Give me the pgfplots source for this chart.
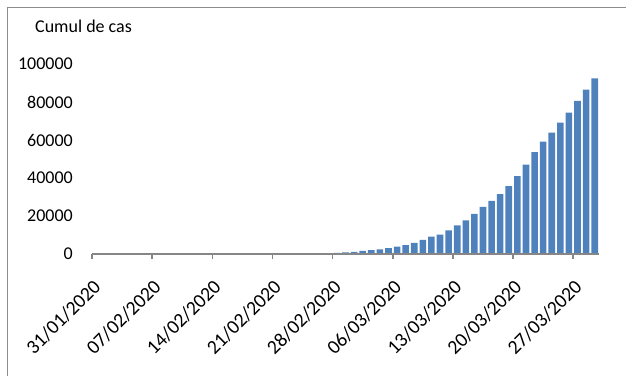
\documentclass[border=0pt]{standalone}
\usepackage{pgfplots}
\usepackage{pgfplotstable}
\pgfplotsset{compat=1.18}
\usepackage{fontspec}
\setmainfont{Carlito}

\definecolor{barblue}{HTML}{4F81BD}
\definecolor{axisgray}{HTML}{868686}
\definecolor{framegray}{HTML}{8C8C8C}

% Cumulative cases, day 0 = 31/01/2020
\pgfplotstableread{
day cases
0 2
1 2
2 2
3 2
4 2
5 2
6 2
7 3
8 3
9 3
10 3
11 3
12 3
13 3
14 3
15 3
16 3
17 3
18 3
19 3
20 3
21 3
22 20
23 79
24 152
25 229
26 322
27 400
28 650
29 888
30 1128
31 1694
32 2036
33 2502
34 3089
35 3858
36 4636
37 5883
38 7375
39 9172
40 10149
41 12462
42 15113
43 17660
44 21157
45 24747
46 27980
47 31506
48 35713
49 41035
50 47021
51 53578
52 59138
53 63927
54 69176
55 74386
56 80539
57 86498
58 92472
}\cumul

\newcommand{\chartfont}{\fontsize{18}{21.6}\selectfont}
\newcommand{\datefont}{\fontsize{19.8}{24}\selectfont}

\begin{document}
\begin{tikzpicture}[x=1pt,y=1pt]
\useasboundingbox (0,0) rectangle (626,376);
\draw[framegray, line width=1.3pt] (7.3,0) -- (7.3,368.7) -- (626,368.7);
\node[anchor=west, inner sep=0pt, font=\chartfont] at (35,349.3) {Cumul de cas};
\begin{axis}[
  at={(92pt,122pt)}, anchor=south west,
  scale only axis, width=507pt, height=190pt,
  xmin=0, xmax=59, ymin=0, ymax=100000,
  axis x line=bottom, axis y line*=left,
  axis line style={-},
  x axis line style={axisgray, line width=1.5pt},
  y axis line style={draw=none},
  ytick={0,20000,...,100000},
  ytick style={draw=none},
  xtick={0,7,...,56},
  xticklabels={31/01/2020,07/02/2020,14/02/2020,21/02/2020,28/02/2020,06/03/2020,13/03/2020,20/03/2020,27/03/2020},
  tick align=outside, major tick length=5pt,
  xtick style={axisgray, line width=1.5pt},
  scaled y ticks=false,
  axis on top,
  yticklabel style={font=\chartfont, xshift=-14pt, anchor=east, inner sep=0pt},
  xticklabel style={font=\datefont, xshift=0pt, yshift=-19pt, rotate=45, anchor=north east, inner sep=0pt},
  /pgf/number format/.cd, fixed, precision=0, 1000 sep={}, assume math mode=true,
]
\addplot[ybar, bar width=6.6pt, fill=barblue, draw=none]
  table[x expr=\thisrow{day}+0.5, y=cases]{\cumul};
\end{axis}
\end{tikzpicture}
\end{document}
